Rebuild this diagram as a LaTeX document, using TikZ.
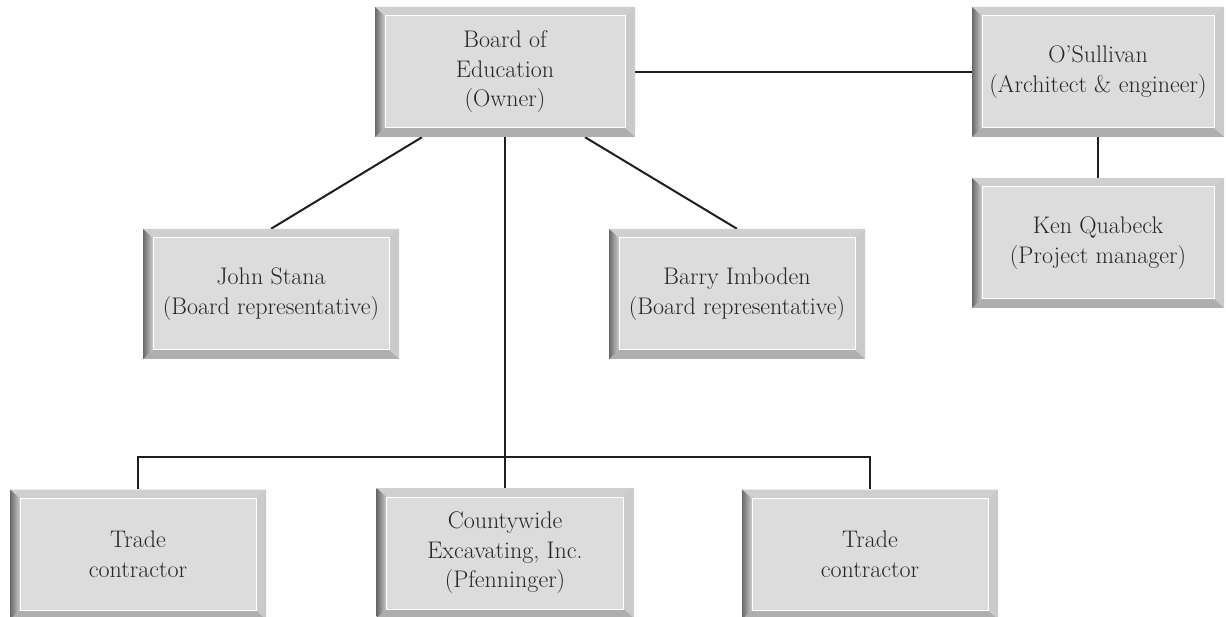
\documentclass[tikz,border=0pt]{standalone}
\usetikzlibrary{calc,backgrounds}

\definecolor{cardface}{RGB}{220,220,221}
\definecolor{bevtop}{RGB}{207,207,207}
\definecolor{bevright}{RGB}{202,202,202}
\definecolor{bevbottom}{RGB}{174,174,174}
\definecolor{bevouter}{RGB}{105,105,105}
\definecolor{bevinner}{RGB}{205,205,205}
\definecolor{wirecol}{RGB}{30,30,30}

\tikzset{
  card/.style={
    rectangle, inner sep=0pt, minimum height=130pt, minimum width=#1,
    fill=cardface, align=center, text=black!85,
    font=\fontsize{24}{29.5}\selectfont,
    path picture={
      % bevelled frame around the face of the box
      \coordinate (bsw) at (path picture bounding box.south west);
      \coordinate (bne) at (path picture bounding box.north east);
      \coordinate (bnw) at (path picture bounding box.north west);
      \coordinate (bse) at (path picture bounding box.south east);
      \coordinate (isw) at ($(bsw)+(10pt,9pt)$);
      \coordinate (ine) at ($(bne)+(-10pt,-9pt)$);
      \coordinate (inw) at ($(bnw)+(10pt,-9pt)$);
      \coordinate (ise) at ($(bse)+(-10pt,9pt)$);
      \fill[bevtop] (bnw) -- (bne) -- (ine) -- (inw) -- cycle;
      \fill[bevright] (bne) -- (bse) -- (ise) -- (ine) -- cycle;
      \fill[bevbottom] (bse) -- (bsw) -- (isw) -- (ise) -- cycle;
      \shade[left color=bevouter, right color=bevinner]
        (bsw) -- (bnw) -- (inw) -- (isw) -- cycle;
      \draw[white, line width=1pt] (isw) rectangle (ine);
    }
  },
  card/.default=256pt,
  wire/.style={draw=wirecol, line width=2pt}
}

\begin{document}
\begin{tikzpicture}[x=1pt, y=-1pt]
  \useasboundingbox (0,0) rectangle (1226,617);

  % top row
  \node[card=260pt] (board) at (505,72) {Board of\\Education\\(Owner)};
  \node[card=252pt] (osul)  at (1098,72) {O'Sullivan\\(Architect \& engineer)};
  \node[card=252pt] (ken)   at (1098,243) {Ken Quabeck\\(Project manager)};

  % board representatives
  \node[card] (john)  at (271,294) {John Stana\\(Board representative)};
  \node[card] (barry) at (737,294) {Barry Imboden\\(Board representative)};

  % contractors
  \node[card] (trade1) at (138,554.5) {Trade\\contractor};
  \node[card=257pt] (cw) at (505,553) {Countywide\\Excavating, Inc.\\(Pfenninger)};
  \node[card] (trade2) at (870,554.5) {Trade\\contractor};

  \coordinate (bus) at (505,457);

  \begin{pgfonlayer}{background}
    \draw[wire] (board.east) -- (osul.west);
    \draw[wire] (osul.south) -- (ken.north);
    \draw[wire] ($(board.south)+(-83,0)$) -- (john.north);
    \draw[wire] ($(board.south)+(80,0)$) -- (barry.north);
    \draw[wire] (board.south) -- (cw.north);
    \draw[wire] (trade1.north) |- (bus) -| (trade2.north);
  \end{pgfonlayer}
\end{tikzpicture}
\end{document}
